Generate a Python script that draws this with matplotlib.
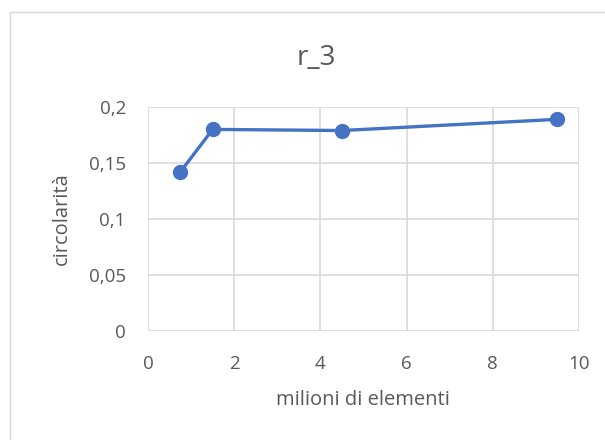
import matplotlib
matplotlib.use("Agg")
import matplotlib.pyplot as plt
from matplotlib.patches import Rectangle

x_values = [0.75, 1.5, 4.5, 9.5]
y_values = [0.142, 0.180, 0.179, 0.189]
x_ticks = [0, 2, 4, 6, 8, 10]
y_ticks = [0, 0.05, 0.1, 0.15, 0.2]
y_tick_labels = ["0", "0,05", "0,1", "0,15", "0,2"]
title = "r_3"
x_label = "milioni di elementi"
y_label = "circolarità"

plt.rcParams['font.family'] = ['Open Sans', 'DejaVu Sans']
text_color = "#595959"
grid_color = "#D9D9D9"

fig = plt.figure(figsize=(6.05, 4.4), dpi=100)
fig.patch.set_facecolor("white")
# outer chart border
fig.add_artist(Rectangle((10/605, -0.1), 1.2, 1 - 12/440 + 0.1, transform=fig.transFigure,
                         fill=False, edgecolor="#D9D9D9", linewidth=1.0, clip_on=False))

ax = fig.add_axes([148/605, 1 - 331/440, (579-148)/605, (331-107)/440])
ax.plot(x_values, y_values, color="#4472C4", linewidth=2.4, marker="o",
        markersize=10, solid_capstyle="round", zorder=3, clip_on=False)
ax.set_xlim(0, 10)
ax.set_ylim(0, 0.2)
ax.set_xticks(x_ticks)
ax.set_yticks(y_ticks)
ax.set_yticklabels(y_tick_labels)
ax.grid(True, color=grid_color, linewidth=1.2)
for s in ax.spines.values():
    s.set_visible(False)
ax.tick_params(length=0, labelsize=13.5, colors=text_color)
ax.tick_params(axis="y", pad=16)
ax.tick_params(axis="x", pad=17)
fig.text(316/605, 1 - 58/440, title, fontsize=20, color=text_color, ha="center", va="center")
fig.text(363/605, 1 - 400/440, x_label, fontsize=14.5, color=text_color, ha="center", va="center")
fig.text(62/605, 1 - 219/440, y_label, fontsize=14.5, color=text_color, ha="center", va="center",
         rotation=90)

fig.savefig("out.png", dpi=100)
